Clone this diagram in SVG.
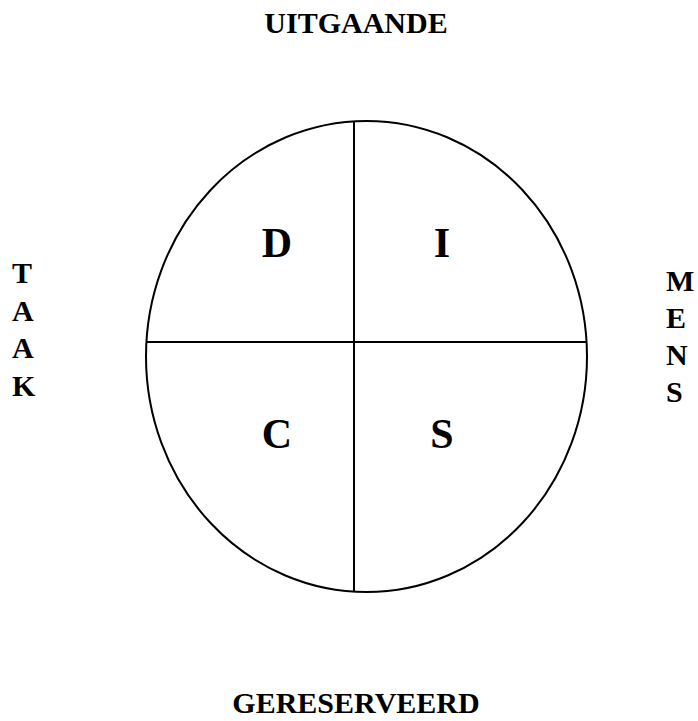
<svg xmlns="http://www.w3.org/2000/svg" width="698" height="721" viewBox="0 0 698 721">
<style>
.lbl{font-family:"Liberation Serif","Times New Roman",serif;font-weight:bold;font-size:30px;fill:#000}
.q{font-family:"Liberation Serif","Times New Roman",serif;font-weight:bold;font-size:42px;fill:#000;text-anchor:middle}
.ln{stroke:#000;stroke-width:2;fill:none}
</style>
<rect width="698" height="721" fill="#fff"/>
<g id="circle">
<ellipse class="ln" cx="366.5" cy="356.5" rx="220.5" ry="235.5"/>
</g>
<g id="connectors">
<line class="ln" x1="354" y1="121.5" x2="354" y2="591.5"/>
<line class="ln" x1="146" y1="342" x2="587" y2="342"/>
</g>
<g id="D"><text class="q" x="277" y="257">D</text></g>
<g id="I"><text class="q" x="442" y="257">I</text></g>
<g id="C"><text class="q" x="277" y="448">C</text></g>
<g id="S"><text class="q" x="442" y="448">S</text></g>
<g id="uitgaande"><text class="lbl" x="356" y="33" text-anchor="middle">UITGAANDE</text></g>
<g id="gereserveerd"><text class="lbl" x="356" y="713" text-anchor="middle">GERESERVEERD</text></g>
<g id="taak">
<text class="lbl" x="12" y="283">T</text>
<text class="lbl" x="12" y="321">A</text>
<text class="lbl" x="12" y="358">A</text>
<text class="lbl" x="12" y="396">K</text>
</g>
<g id="mens">
<text class="lbl" x="666" y="291">M</text>
<text class="lbl" x="666" y="328">E</text>
<text class="lbl" x="666" y="365">N</text>
<text class="lbl" x="666" y="402">S</text>
</g>
</svg>
